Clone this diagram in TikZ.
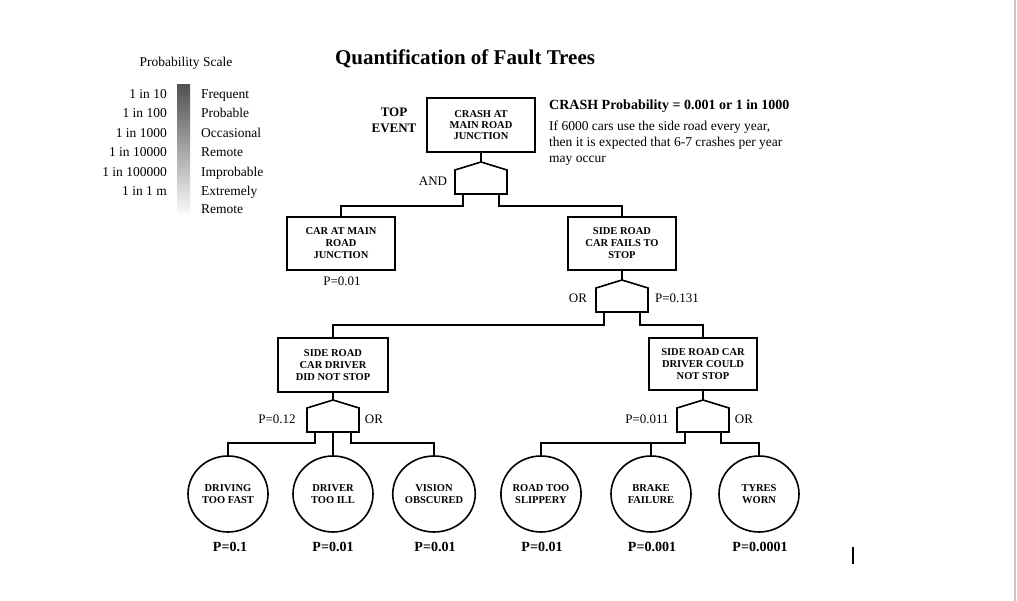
\documentclass[tikz,border=0pt]{standalone}
\usepackage{fontspec}
\setmainfont{Liberation Serif}
\usetikzlibrary{shapes.geometric,calc}
\tikzset{
  box/.style={draw, line width=1.6pt, minimum width=108pt, minimum height=54pt, align=center, inner sep=0pt, font=\fontsize{10.5}{12}\selectfont\bfseries},
  basic/.style={draw, ellipse, line width=1.6pt, minimum width=80pt, minimum height=76pt, align=center, inner sep=0pt, font=\fontsize{10.5}{12}\selectfont\bfseries},
  conn/.style={line width=1.6pt},
  lbl/.style={font=\fontsize{13}{15}\selectfont, inner sep=0pt},
  plbl/.style={font=\fontsize{14}{15}\selectfont\bfseries, inner sep=0pt},
  scl/.style={font=\fontsize{13.5}{15}\selectfont, inner sep=0pt},
  gate/.pic={
    \draw[line width=1.6pt, line join=miter] (0,0) -- (26,8) -- (26,32) -- (-26,32) -- (-26,8) -- cycle;
    \coordinate (-apex) at (0,0);
    \coordinate (-l) at (-18,32);
    \coordinate (-c) at (0,32);
    \coordinate (-r) at (18,32);
  }
}
\begin{document}
\begin{tikzpicture}[x=1pt,y=-1pt]
\useasboundingbox (0,0) rectangle (1017,601);
\fill[white] (0,0) rectangle (1017,601);

% title
\node[font=\fontsize{21}{24}\selectfont\bfseries, inner sep=0pt] (title) at (465,59) {Quantification of Fault Trees};

% probability scale
\node[scl] (pstitle) at (186,63) {Probability Scale};
\shade[top color=black!68, bottom color=black!2] (177,85) rectangle (190,214);
\foreach \t/\i in {1 in 10/0, 1 in 100/1, 1 in 1000/2, 1 in 10000/3, 1 in 100000/4, 1 in 1 m/5}
  \node[scl, anchor=base east] (sl\i) at (167,98.5+19.4*\i) {\t};
\foreach \t/\i in {Frequent/0, Probable/1, Occasional/2, Remote/3, Improbable/4, Extremely/5}
  \node[scl, anchor=base west] (sr\i) at (201,98.5+19.4*\i) {\t};
\node[scl, anchor=base west] (sr6) at (201,214) {Remote};

% top event
\node[box, font=\fontsize{10.5}{11}\selectfont\bfseries] (top) at (481,125) {CRASH AT\\MAIN ROAD\\JUNCTION};
\node[font=\fontsize{13}{16}\selectfont\bfseries, align=center, inner sep=0pt] (toplbl) at (394,120) {TOP\\EVENT};
\node[font=\fontsize{14}{16}\selectfont\bfseries, anchor=base west, inner sep=0pt] (crash) at (549,110) {CRASH Probability = 0.001 or 1 in 1000};
\node[font=\fontsize{13.5}{16}\selectfont, anchor=north west, align=left, inner sep=0pt] (note) at (549,121) {If 6000 cars use the side road every year,\\then it is expected that 6-7 crashes per year\\may occur};

\pic (and) at (481,162) {gate};
\node[lbl] (andlbl) at (433,181) {AND};
\draw[conn] (top.south) -- (and-apex);

% level 2
\node[box, minimum height=53pt] (car) at (341,243.5) {CAR AT MAIN\\ROAD\\JUNCTION};
\node[box, minimum height=53pt] (fails) at (622,243.5) {SIDE ROAD\\CAR FAILS TO\\STOP};
\node[lbl] (pcar) at (342,281) {P=0.01};
\draw[conn] (and-l) -- ++(0,12) -| (car.north);
\draw[conn] (and-r) -- ++(0,12) -| (fails.north);

\pic (or1) at (622,280) {gate};
\draw[conn] (fails.south) -- (or1-apex);
\node[lbl] (or1lbl) at (578,298) {OR};
\node[lbl] (pfails) at (677,298) {P=0.131};

% level 3
\node[box, minimum width=110pt] (didnot) at (333,365) {SIDE ROAD\\CAR DRIVER\\DID NOT STOP};
\node[box, minimum height=52pt] (could) at (703,364) {SIDE ROAD CAR\\DRIVER COULD\\NOT STOP};
\draw[conn] (or1-l) -- ++(0,13) -| (didnot.north);
\draw[conn] (or1-r) -- ++(0,13) -| (could.north);

\pic (or2) at (333,400) {gate};
\draw[conn] (didnot.south) -- (or2-apex);
\node[lbl] (p2) at (277,419) {P=0.12};
\node[lbl] (or2lbl) at (374,419) {OR};

\pic (or3) at (703,400) {gate};
\draw[conn] (could.south) -- (or3-apex);
\node[lbl] (p3) at (647,419) {P=0.011};
\node[lbl] (or3lbl) at (744,419) {OR};

% basic events
\node[basic] (fast) at (228,494) {DRIVING\\TOO FAST};
\node[basic] (ill) at (333,494) {DRIVER\\TOO ILL};
\node[basic] (vision) at (434,494) {VISION\\OBSCURED};
\node[basic] (slip) at (541,494) {ROAD TOO\\SLIPPERY};
\node[basic] (brake) at (651,494) {BRAKE\\FAILURE};
\node[basic] (tyres) at (759,494) {TYRES\\WORN};

\draw[conn] (or2-l) -- ++(0,11) -| (fast.north);
\draw[conn] (or2-c) -- (ill.north);
\draw[conn] (or2-r) -- ++(0,11) -| (vision.north);
\draw[conn] (or3-l) -- ++(0,11) coordinate (j3) -| (slip.north);
\draw[conn] (brake.north) -- (brake.north |- j3);
\draw[conn] (or3-r) -- ++(0,11) -| (tyres.north);

\node[plbl] (pf) at (230,547) {P=0.1};
\node[plbl] (pi) at (333,547) {P=0.01};
\node[plbl] (pv) at (435,547) {P=0.01};
\node[plbl] (ps) at (542,547) {P=0.01};
\node[plbl] (pb) at (652,547) {P=0.001};
\node[plbl] (pt) at (760,547) {P=0.0001};

% cursor and page edge
\draw[line width=1.2pt] (853,547) -- (853,564);
\draw[black!22, line width=1.5pt] (1015,0) -- (1015,601);
\end{tikzpicture}
\end{document}
